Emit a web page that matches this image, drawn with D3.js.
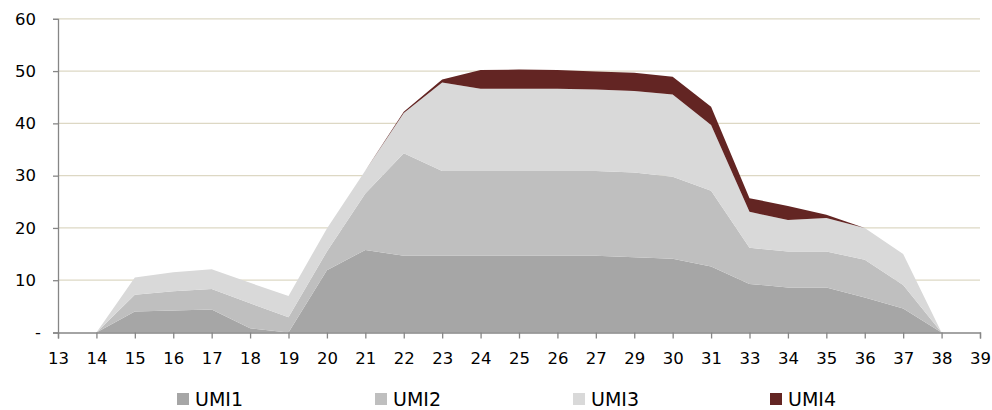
<!DOCTYPE html>
<html>
<head>
<meta charset="utf-8">
<script src="https://cdn.jsdelivr.net/npm/d3@7"></script>
<style>
  html, body { margin: 0; padding: 0; background: #fff; }
  svg { display: block; }
  text { font-family: "DejaVu Sans", Verdana, sans-serif; }
</style>
</head>
<body>
<svg id="chart" width="992" height="410"></svg>
<script>
// Weekly categories along the x axis (weeks 28 and 32 are absent)
const categories = ["13","14","15","16","17","18","19","20","21","22","23","24","25","26","27","29","30","31","33","34","35","36","37","38","39"];
const seriesNames = ["UMI1", "UMI2", "UMI3", "UMI4"];
const seriesColors = ["#a6a6a6", "#bfbfbf", "#d9d9d9", "#632523"];

// Values per series (null = no data for that week)
const umi1 = [null, 0, 4.0, 4.2, 4.4, 0.8, 0, 11.9, 15.8, 14.7, 14.7, 14.7, 14.7, 14.7, 14.7, 14.4, 14.1, 12.6, 9.3, 8.6, 8.6, 6.7, 4.6, 0, null];
const umi2 = [null, 0, 3.2, 3.7, 3.9, 4.8, 2.9, 3.6, 10.8, 19.6, 16.2, 16.2, 16.2, 16.2, 16.2, 16.2, 15.7, 14.5, 6.9, 6.9, 6.9, 7.2, 4.5, 0, null];
const umi3 = [null, 0, 3.3, 3.6, 3.8, 3.9, 4.1, 4.4, 4.4, 7.7, 16.9, 15.7, 15.7, 15.7, 15.6, 15.6, 15.7, 12.6, 6.9, 6.0, 6.4, 6.1, 5.9, 0, null];
const umi4 = [null, 0, 0, 0, 0, 0, 0, 0, 0, 0.2, 0.6, 3.6, 3.7, 3.6, 3.4, 3.5, 3.4, 3.5, 2.6, 2.7, 0.6, 0, 0, 0, null];

const yTicks = [0, 10, 20, 30, 40, 50, 60];

const rows = categories.map((c, i) => ({
  cat: c,
  present: umi1[i] !== null,
  UMI1: umi1[i] ?? 0,
  UMI2: umi2[i] ?? 0,
  UMI3: umi3[i] ?? 0,
  UMI4: umi4[i] ?? 0
}));

const svg = d3.select("#chart");
const plotLeft = 58, plotRight = 980, plotTop = 18.8, plotBottom = 332.5;

const x = d3.scalePoint().domain(categories).range([plotLeft, plotRight]);
const y = d3.scaleLinear().domain([0, 60]).range([plotBottom, plotTop]);

// Horizontal gridlines
svg.append("g")
  .selectAll("line")
  .data(yTicks.filter(v => v > 0))
  .join("line")
  .attr("x1", plotLeft).attr("x2", plotRight)
  .attr("y1", d => y(d)).attr("y2", d => y(d))
  .attr("stroke", "#ddd8c4")
  .attr("stroke-width", 1.2);

// Stacked areas
const stacked = d3.stack().keys(seriesNames)(rows);
const area = d3.area()
  .defined(d => d.data.present)
  .x(d => x(d.data.cat))
  .y0(d => y(d[0]))
  .y1(d => y(d[1]));

svg.append("g")
  .selectAll("path")
  .data(stacked)
  .join("path")
  .attr("d", area)
  .attr("fill", (d, i) => seriesColors[i]);

// Axes
const axisColor = "#868686";
const yAxis = svg.append("g")
  .attr("transform", `translate(${plotLeft},0)`)
  .call(d3.axisLeft(y).tickValues(yTicks).tickSize(5).tickPadding(17)
    .tickFormat(d => d === 0 ? "-" : d));
yAxis.selectAll("text").attr("font-size", "16.5px").attr("fill", "#000")
  .attr("dx", d => d === 0 ? "5px" : 0);

const xAxis = svg.append("g")
  .attr("transform", `translate(0,${plotBottom})`)
  .call(d3.axisBottom(x).tickSize(6).tickPadding(13.4));
xAxis.selectAll("text").attr("font-size", "16.5px").attr("fill", "#000");

[yAxis, xAxis].forEach(g => {
  g.select(".domain").attr("stroke", axisColor).attr("stroke-width", 1.3);
  g.selectAll(".tick line").attr("stroke", axisColor).attr("stroke-width", 1.3);
  g.attr("font-family", null);
});

// Legend
const legendX = [177, 375, 573, 770];
const legend = svg.append("g")
  .selectAll("g")
  .data(seriesNames)
  .join("g")
  .attr("transform", (d, i) => `translate(${legendX[i]},393)`);
legend.append("rect")
  .attr("width", 12).attr("height", 12)
  .attr("fill", (d, i) => seriesColors[i]);
legend.append("text")
  .attr("x", 18).attr("y", 12.6)
  .attr("font-size", "19px")
  .attr("fill", "#000")
  .text(d => d);
</script>
</body>
</html>
